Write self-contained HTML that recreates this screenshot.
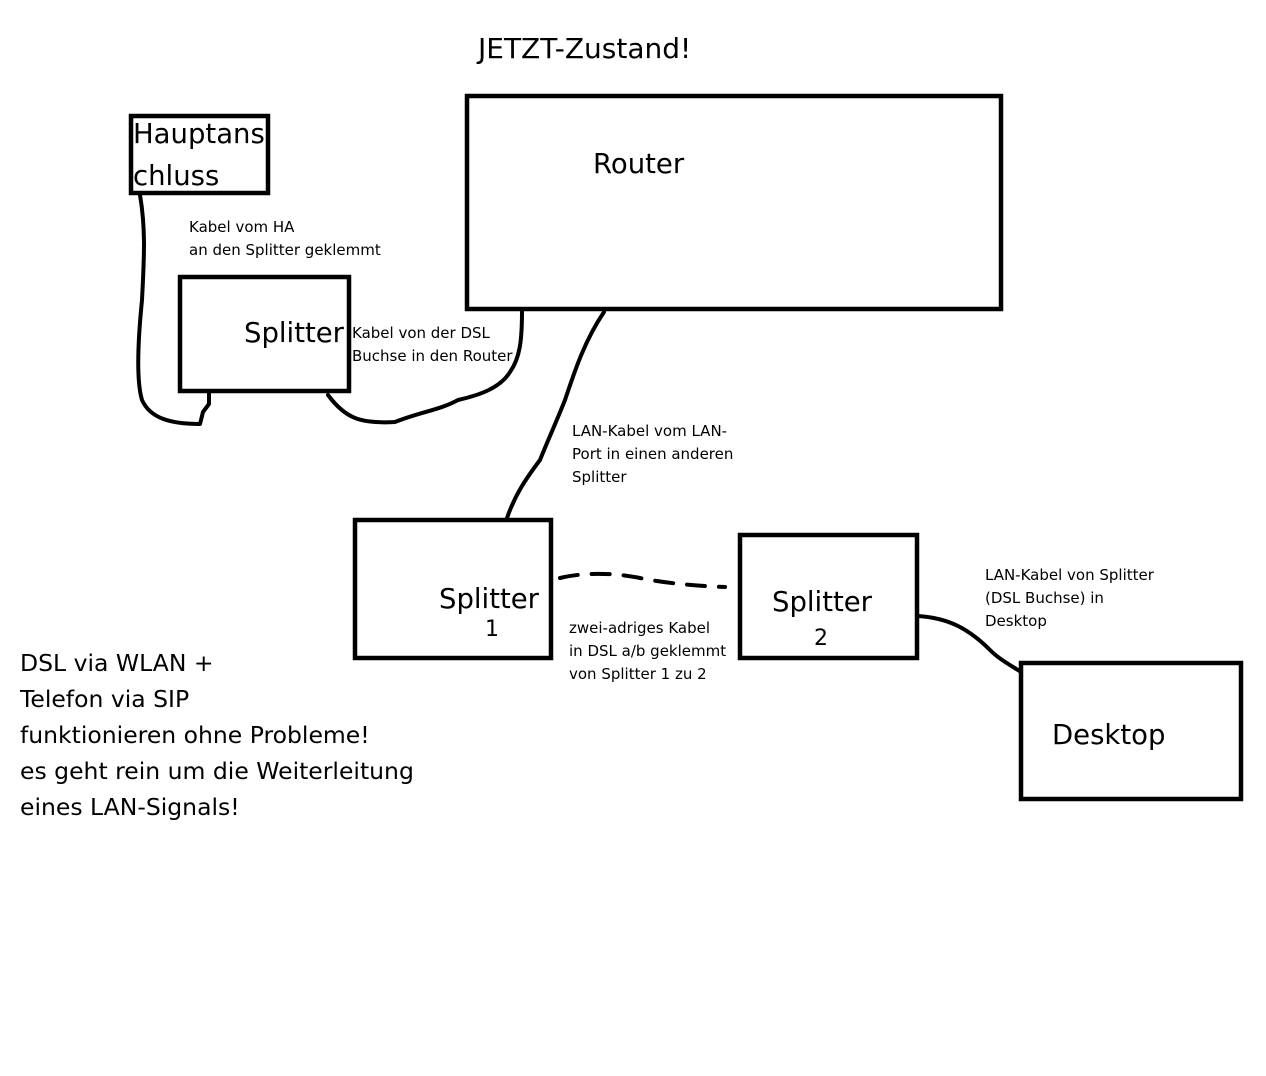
<!DOCTYPE html>
<html><head><meta charset="utf-8"><style>
html,body{margin:0;padding:0;background:#fff}
svg{display:block}
text{font-family:"DejaVu Sans","Liberation Sans",sans-serif;fill:#000}
.s{font-size:15px}
.m{font-size:27.5px}
.t{font-size:28px}
.l{font-size:23.5px}
.n{font-size:22px}
</style></head><body>
<svg width="1266" height="1076" viewBox="0 0 1266 1076" xmlns="http://www.w3.org/2000/svg">
<rect width="1266" height="1076" fill="#fff"/>
<g fill="none" stroke="#000" stroke-width="4.5" stroke-linejoin="miter">
<rect x="131" y="116" width="137" height="77"/>
<rect x="467" y="96" width="534" height="213"/>
<rect x="180" y="277" width="169" height="114"/>
<rect x="355" y="520" width="196" height="138"/>
<rect x="740" y="535" width="177" height="123"/>
<rect x="1021" y="663" width="220" height="136"/>
</g>
<g fill="none" stroke="#000" stroke-width="4" stroke-linecap="round" stroke-linejoin="round">
<path d="M140,195 C146,230 144,260 142,300 C138,340 136,380 142,400 C150,418 170,424 200,424 L203,412 L209,404 L209,391"/>
<path d="M328,395 C345,418 360,424 395,422 C420,412 440,410 458,400 C480,395 500,388 510,372 C520,358 522,340 522,311"/>
<path d="M604,312 C585,340 575,370 565,400 C555,425 548,440 540,460 C525,480 515,495 507,518"/>
<path d="M560,578 C580,573 610,572 640,578 C670,584 700,586 725,587" stroke-dasharray="18,14"/>
<path d="M918,616 C950,618 970,630 990,650 C1000,660 1012,666 1021,672"/>
</g>
<text x="478" y="58" class="t">JETZT-Zustand!</text>
<text x="133" y="143" class="m">Hauptans</text>
<text x="133" y="185" class="m">chluss</text>
<text x="593" y="173" class="m">Router</text>
<text x="244" y="342" class="m">Splitter</text>
<text x="439" y="608" class="m">Splitter</text>
<text x="485" y="636" class="n">1</text>
<text x="772" y="611" class="m">Splitter</text>
<text x="814" y="645" class="n">2</text>
<text x="1052" y="744" class="m">Desktop</text>
<text x="189" y="232" class="s">Kabel vom HA</text>
<text x="189" y="255" class="s">an den Splitter geklemmt</text>
<text x="352" y="338" class="s">Kabel von der DSL</text>
<text x="352" y="361" class="s">Buchse in den Router</text>
<text x="572" y="436" class="s">LAN-Kabel vom LAN-</text>
<text x="572" y="459" class="s">Port in einen anderen</text>
<text x="572" y="482" class="s">Splitter</text>
<text x="569" y="633" class="s">zwei-adriges Kabel</text>
<text x="569" y="656" class="s">in DSL a/b geklemmt</text>
<text x="569" y="679" class="s">von Splitter 1 zu 2</text>
<text x="985" y="580" class="s">LAN-Kabel von Splitter</text>
<text x="985" y="603" class="s">(DSL Buchse) in</text>
<text x="985" y="626" class="s">Desktop</text>
<text x="20" y="671" class="l">DSL via WLAN +</text>
<text x="20" y="707" class="l">Telefon via SIP</text>
<text x="20" y="743" class="l">funktionieren ohne Probleme!</text>
<text x="20" y="779" class="l">es geht rein um die Weiterleitung</text>
<text x="20" y="815" class="l">eines LAN-Signals!</text>
</svg>
</body></html>
